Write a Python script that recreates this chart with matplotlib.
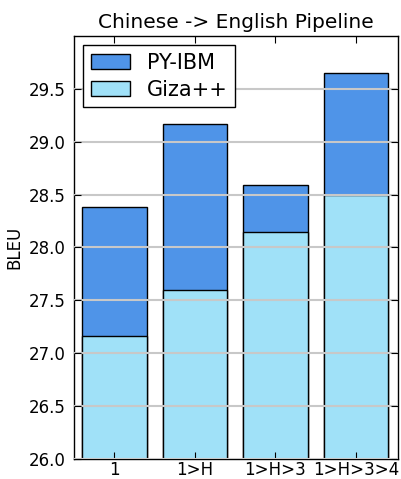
import matplotlib
matplotlib.use("Agg")
import matplotlib.pyplot as plt
import numpy as np

categories = ["1", "1>H", "1>H>3", "1>H>3>4"]
py_ibm = [28.38, 29.17, 28.59, 29.65]
giza = [27.16, 27.60, 28.15, 28.50]
yticks = [26.0, 26.5, 27.0, 27.5, 28.0, 28.5, 29.0, 29.5]

fig = plt.figure(figsize=(4.01, 4.79), dpi=100)
ax = fig.add_axes([0.1845, 0.0418, 0.8080, 0.8830])

x = np.arange(len(categories))
ax.bar(x, py_ibm, width=0.8, color="#4f94e8", edgecolor="black", linewidth=1.0, label="PY-IBM", zorder=1)
ax.bar(x, giza, width=0.8, color="#a0e1f8", edgecolor="black", linewidth=1.0, label="Giza++", zorder=1)

ax.set_ylim(26.0, 30.0)
ax.set_xlim(-0.5, 3.52)
ax.set_yticks(yticks)
ax.set_yticklabels([f"{v:.1f}" for v in yticks])
ax.set_xticks(x)
ax.set_xticklabels(categories)
ax.tick_params(direction="in", length=5, top=True, right=True, labelsize=12)
ax.tick_params(axis="y", pad=6)
ax.tick_params(axis="x", pad=1.5)
ax.yaxis.grid(True, color="#c8c8c8", linewidth=1.5, zorder=2)
ax.set_axisbelow(False)
ax.set_ylabel("BLEU", fontsize=12)
ax.set_title("Chinese -> English Pipeline", fontsize=14.5)
for s in ax.spines.values():
    s.set_linewidth(1.0)

leg = ax.legend(loc="upper left", fontsize=15, fancybox=False, framealpha=1,
                edgecolor="black", handlelength=1.9, handleheight=0.7, borderpad=0.35,
                labelspacing=0.35, handletextpad=0.8, borderaxespad=0.45)
leg.get_frame().set_linewidth(1.0)

fig.savefig("out.png", dpi=100)
